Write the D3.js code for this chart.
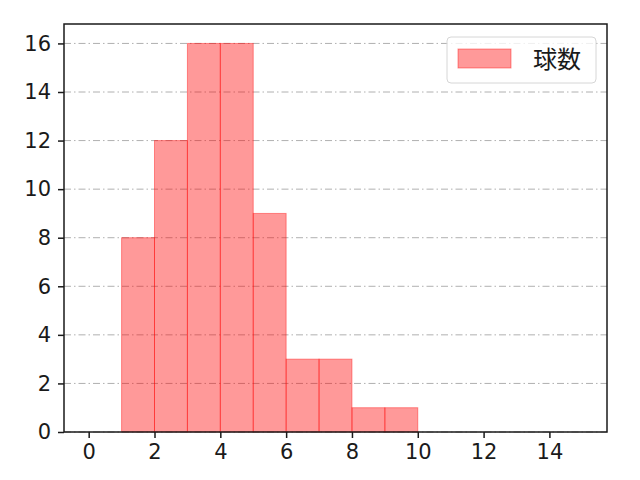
<!DOCTYPE html>
<html>
<head>
<meta charset="utf-8">
<script src="https://cdn.jsdelivr.net/npm/d3@7"></script>
<style>
  body { margin: 0; background: #fff; }
  svg { font-family: "Noto Sans CJK JP", "DejaVu Sans", sans-serif; }
</style>
</head>
<body>
<div id="chart"></div>
<script>
// histogram bins (left edge) and counts
const binStarts = [1, 2, 3, 4, 5, 6, 7, 8, 9]
const counts = [8, 12, 16, 16, 9, 3, 3, 1, 1]
const xTicks = [0, 2, 4, 6, 8, 10, 12, 14]
const yTicks = [0, 2, 4, 6, 8, 10, 12, 14, 16]
const seriesName = "球数"

const w = 640, h = 480
const margin = ({top: 24, right: 33, bottom: 48, left: 64})

const x = d3.scaleLinear()
    .domain([-0.75, 15.75])
    .range([margin.left, w - margin.right])

const y = d3.scaleLinear()
    .domain([0, 16.8])
    .range([h - margin.bottom, margin.top])

const svg = d3.select("#chart")
    .append("svg")
    .attr("width", w)
    .attr("height", h)

// grid
svg.append("g")
    .selectAll("line")
    .data(yTicks)
    .join("line")
        .attr("x1", margin.left)
        .attr("x2", w - margin.right)
        .attr("y1", d => y(d))
        .attr("y2", d => y(d))
        .attr("stroke", "#b0b0b0")
        .attr("stroke-width", 1)
        .attr("stroke-dasharray", "7,3,1.5,3")

// bars
svg.append("g")
    .selectAll("rect")
    .data(binStarts)
    .join("rect")
        .attr("x", d => x(d))
        .attr("width", d => x(d + 1) - x(d))
        .attr("y", (d, i) => y(counts[i]))
        .attr("height", (d, i) => y(0) - y(counts[i]))
        .attr("fill", "rgba(255,0,0,0.4)")
        .attr("stroke", "rgba(255,0,0,0.4)")
        .attr("stroke-width", 1)

// axes
const xAxis = g => g
    .attr("transform", `translate(0,${h - margin.bottom})`)
    .call(d3.axisBottom(x).tickValues(xTicks).tickSize(6).tickPadding(6))
    .call(g => g.select(".domain").remove())

const yAxis = g => g
    .attr("transform", `translate(${margin.left},0)`)
    .call(d3.axisLeft(y).tickValues(yTicks).tickSize(6).tickPadding(7))
    .call(g => g.select(".domain").remove())

svg.append("g").call(xAxis)
svg.append("g").call(yAxis)

svg.selectAll(".tick text")
    .style("font-size", "21px")
    .style("font-family", "\"DejaVu Sans\", sans-serif")
    .attr("fill", "#1a1a1a")
svg.selectAll(".tick line")
    .attr("stroke", "#1a1a1a")
    .attr("stroke-width", 1.5)

// frame
svg.append("rect")
    .attr("x", margin.left)
    .attr("y", margin.top)
    .attr("width", w - margin.left - margin.right)
    .attr("height", h - margin.top - margin.bottom)
    .attr("fill", "none")
    .attr("stroke", "#1a1a1a")
    .attr("stroke-width", 1.5)

// legend
const legend = svg.append("g")
    .attr("transform", `translate(447,37)`)

legend.append("rect")
    .attr("width", 149)
    .attr("height", 46)
    .attr("rx", 4)
    .attr("fill", "rgba(255,255,255,0.8)")
    .attr("stroke", "#d6d6d6")
    .attr("stroke-width", 1)

legend.append("rect")
    .attr("x", 11)
    .attr("y", 12)
    .attr("width", 53)
    .attr("height", 19)
    .attr("fill", "rgba(255,0,0,0.4)")
    .attr("stroke", "rgba(255,0,0,0.4)")

legend.append("text")
    .attr("x", 86)
    .attr("y", 31)
    .style("font-size", "24px")
    .attr("fill", "#1a1a1a")
    .text(seriesName)
</script>
</body>
</html>
